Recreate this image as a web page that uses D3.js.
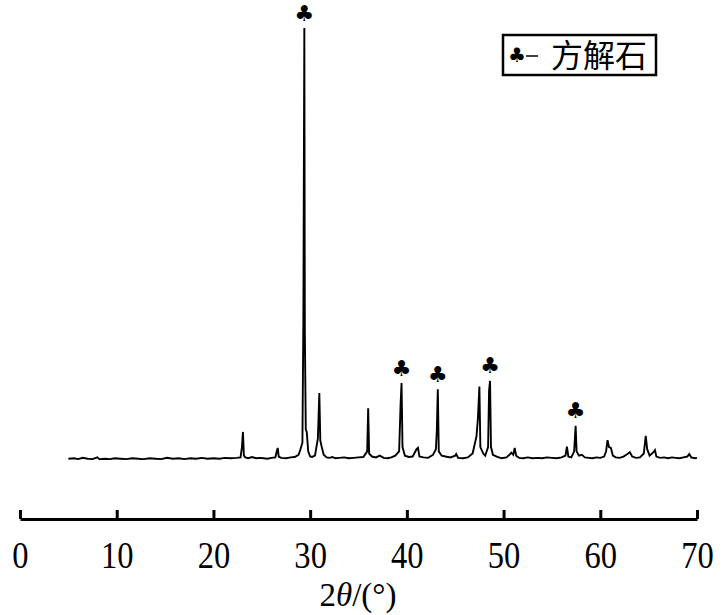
<!DOCTYPE html>
<html>
<head>
<meta charset="utf-8">
<script src="https://d3js.org/d3.v7.min.js"></script>
<style>
    body { margin: 0; background: #fff; }
</style>
</head>
<body>
<svg id="chart"></svg>
<script>
// 2theta (deg) and intensity (arbitrary, main peak = 1000)
const two_theta = [
    5.0, 5.6, 6.0, 6.5, 7.0, 7.5, 8.0, 8.2, 8.8, 9.3, 9.8, 10.4, 11.0, 11.6, 12.2, 12.8, 13.4, 14.0, 14.6, 15.2,
    15.8, 16.4, 17.0, 17.6, 18.2, 18.8, 19.4, 20.0, 20.6, 21.2, 21.8, 22.4, 22.8, 22.95, 23.05, 23.15, 23.3, 23.6,
    24.0, 24.4, 24.8, 25.2, 25.6, 26.0, 26.4, 26.55, 26.65, 26.75, 27.0, 27.5, 28.0, 28.4, 28.8, 29.0, 29.2, 29.3,
    29.4, 29.45, 29.55, 29.65, 29.8, 30.0, 30.2, 30.5, 30.8, 30.95, 31.05, 31.2, 31.4, 31.7, 32.0, 32.3, 32.6, 33.0,
    33.5, 34.0, 34.5, 35.0, 35.5, 35.9, 36.0, 36.1, 36.4, 36.8, 37.2, 37.6, 38.0, 38.4, 38.8, 39.2, 39.35, 39.45,
    39.55, 39.8, 40.2, 40.6, 41.0, 41.15, 41.3, 41.7, 42.2, 42.7, 43.0, 43.1, 43.2, 43.3, 43.6, 44.0, 44.5, 45.0,
    45.1, 45.3, 45.8, 46.3, 46.8, 47.0, 47.2, 47.35, 47.5, 47.6, 47.9, 48.1, 48.4, 48.5, 48.6, 48.7, 48.9, 49.3,
    49.8, 50.3, 50.6, 50.8, 51.0, 51.15, 51.3, 51.6, 52.0, 52.5, 53.0, 53.5, 54.0, 54.5, 55.0, 55.5, 56.0, 56.4,
    56.55, 56.7, 57.0, 57.3, 57.45, 57.55, 57.8, 58.1, 58.4, 58.8, 59.2, 59.6, 60.0, 60.4, 60.6, 60.75, 60.9, 61.1,
    61.3, 61.6, 62.0, 62.4, 62.8, 63.05, 63.3, 63.7, 64.1, 64.5, 64.7, 64.85, 65.1, 65.5, 65.65, 65.8, 66.2, 66.6,
    67.0, 67.4, 67.8, 68.2, 68.6, 69.0, 69.2, 69.4, 69.8, 70.0
];
const intensity = [
    3, 4, 2, 5, 3, 2, 6, 2, 3, 2, 4, 3, 2, 4, 3, 2, 4, 3, 2, 5,
    3, 4, 2, 4, 3, 5, 3, 4, 3, 5, 4, 5, 6, 30, 65, 10, 6, 4,
    7, 4, 5, 4, 3, 5, 6, 20, 28, 8, 5, 4, 6, 7, 12, 25, 40, 324,
    1000, 300, 70, 65, 20, 8, 7, 10, 50, 155, 45, 30, 12, 6, 5, 7, 4, 5,
    6, 4, 5, 6, 7, 20, 120, 15, 8, 6, 10, 5, 4, 6, 10, 20, 127, 178,
    30, 10, 7, 8, 25, 28, 8, 6, 5, 12, 25, 69, 164, 20, 10, 8, 6, 10,
    14, 5, 4, 6, 15, 35, 55, 97, 170, 30, 15, 10, 30, 160, 183, 30, 12, 8,
    4, 6, 12, 17, 12, 28, 10, 5, 4, 6, 4, 5, 4, 6, 5, 4, 6, 10,
    31, 8, 6, 20, 79, 20, 10, 12, 6, 5, 4, 6, 5, 8, 20, 46, 30, 28,
    10, 6, 5, 8, 14, 18, 8, 5, 6, 15, 56, 25, 10, 18, 23, 8, 5, 6,
    4, 6, 5, 4, 6, 8, 14, 6, 4, 5
];

// calcite peaks marked with a club
const marker_theta = [29.4, 39.45, 43.2, 48.6, 57.45];
const marker_intensity = [1000, 178, 164, 183, 79];

const x_ticks = [0, 10, 20, 30, 40, 50, 60, 70];
const legend_label = '方解石';

class XrdChart {
    constructor (config) {
        this.config = {
            parent: config.parent,
            width: config.width || 723,
            height: config.height || 615,
        };
        this.data = two_theta.map((t, i) => ({theta: t, value: intensity[i]}));
        this.init();
    }

    init() {
        let self = this;

        self.svg = d3.select(self.config.parent)
            .attr('width', self.config.width)
            .attr('height', self.config.height);

        self.xscale = d3.scaleLinear()
            .domain([0, 70])
            .range([20, 697]);

        self.yscale = d3.scaleLinear()
            .domain([0, 1000])
            .range([460, 28]);

        self.render();
    }

    render() {
        let self = this;

        const line = d3.line()
            .x(d => self.xscale(d.theta))
            .y(d => self.yscale(d.value));

        self.svg.append('path')
            .datum(self.data)
            .attr('fill', 'none')
            .attr('stroke', '#000')
            .attr('stroke-width', 1.9)
            .attr('d', line);

        self.svg.selectAll('.club')
            .data(marker_theta)
            .join('text')
            .attr('class', 'club')
            .attr('x', d => self.xscale(d))
            .attr('y', (d, i) => self.yscale(marker_intensity[i]) - 15)
            .attr('text-anchor', 'middle')
            .attr('dominant-baseline', 'central')
            .style('font-family', 'DejaVu Sans')
            .style('font-size', '22px')
            .text('♣');

        // x axis, ticks pointing up
        const xaxis = d3.axisBottom(self.xscale)
            .tickValues(x_ticks)
            .tickSize(-9)
            .tickSizeOuter(0)
            .tickPadding(23);

        const xaxis_group = self.svg.append('g')
            .attr('transform', 'translate(0, 519)')
            .call(xaxis);

        xaxis_group.select('.domain')
            .attr('stroke', '#000')
            .attr('stroke-width', 3);
        xaxis_group.selectAll('.tick line')
            .attr('stroke', '#000')
            .attr('stroke-width', 3);
        xaxis_group.selectAll('.tick text')
            .attr('fill', '#000')
            .attr('transform', 'scale(0.88, 1)')
            .attr('x', function() { return 0; })
            .style('font-family', '"Times New Roman", "Liberation Serif", serif')
            .style('font-size', '37px');

        const title = self.svg.append('text')
            .attr('x', 358)
            .attr('y', 606)
            .attr('text-anchor', 'middle')
            .style('font-family', '"Times New Roman", "Liberation Serif", serif')
            .style('font-size', '33px');
        title.append('tspan').text('2');
        title.append('tspan').style('font-style', 'italic').text('θ');
        title.append('tspan').text('/(°)');

        // legend
        const legend = self.svg.append('g');
        legend.append('rect')
            .attr('x', 503)
            .attr('y', 35)
            .attr('width', 153)
            .attr('height', 40)
            .attr('fill', '#fff')
            .attr('stroke', '#000')
            .attr('stroke-width', 2.5);
        legend.append('text')
            .attr('x', 517)
            .attr('y', 55)
            .attr('text-anchor', 'middle')
            .attr('dominant-baseline', 'central')
            .style('font-family', 'DejaVu Sans')
            .style('font-size', '20px')
            .text('♣');
        legend.append('line')
            .attr('x1', 526)
            .attr('x2', 538)
            .attr('y1', 56)
            .attr('y2', 56)
            .attr('stroke', '#000')
            .attr('stroke-width', 1.5);
        legend.append('text')
            .attr('x', 551)
            .attr('y', 67)
            .style('font-family', '"Noto Sans CJK SC"')
            .style('font-size', '32px')
            .text(legend_label);
    }
}

new XrdChart({parent: '#chart'});
</script>
</body>
</html>
